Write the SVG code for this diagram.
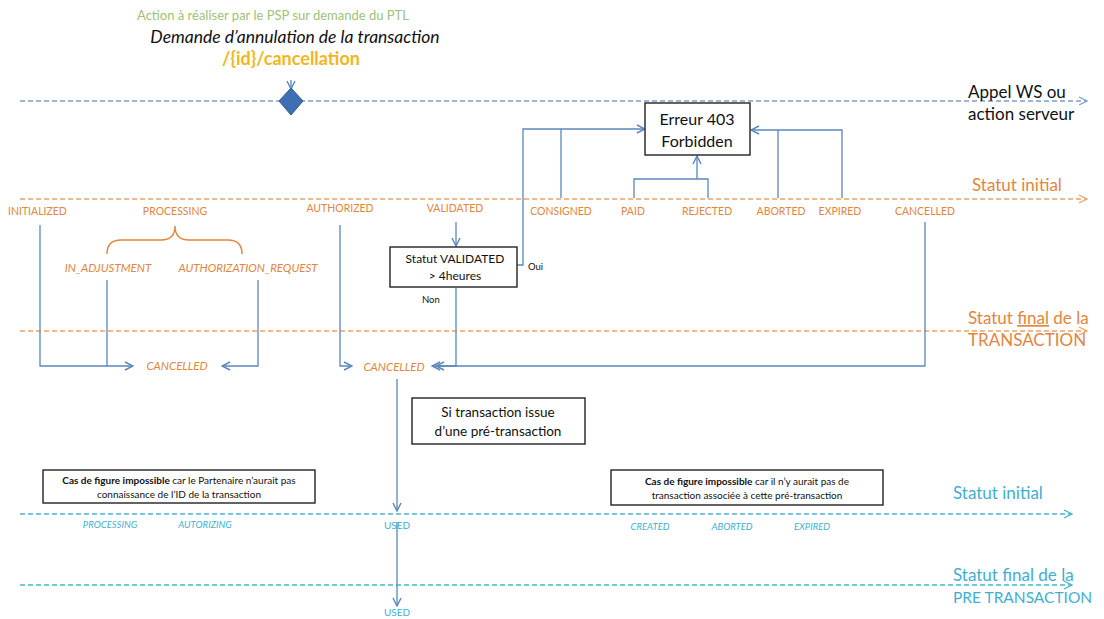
<svg xmlns="http://www.w3.org/2000/svg" width="1104" height="619" viewBox="0 0 1104 619">
<defs>
<style>
text{font-family:Lato,"Open Sans","Liberation Sans",sans-serif}
.or{fill:#E2853E;font-size:10.5px}
.ori{fill:#E2853E;font-size:11.5px;font-style:italic}
.cy{fill:#3FAFD0;font-size:9.5px;font-style:italic}
.cyn{fill:#3FAFD0;font-size:10px}
.lane-o{stroke:#EBA266;stroke-width:1.3;stroke-dasharray:5 3;fill:none}
.lane-b{stroke:#7C9EC6;stroke-width:1.3;stroke-dasharray:5 3;fill:none}
.lane-c{stroke:#48B4D4;stroke-width:1.3;stroke-dasharray:5 3;fill:none}
.con{stroke:#5B86BD;stroke-width:1.3;fill:none}
.box{fill:#fff;stroke:#222;stroke-width:1.4}
.bt{fill:#111;font-size:16px;text-anchor:middle}
.st{fill:#111;font-size:10px;text-anchor:middle}
.lab{font-size:17px}
</style>
<marker id="ab" viewBox="0 0 10 10" refX="9" refY="5" markerWidth="10" markerHeight="10" markerUnits="userSpaceOnUse" orient="auto"><path d="M1,1 L9,5 L1,9" fill="none" stroke="#5B86BD" stroke-width="1.4"/></marker>
<marker id="ao" viewBox="0 0 10 10" refX="9" refY="5" markerWidth="10" markerHeight="10" markerUnits="userSpaceOnUse" orient="auto"><path d="M1,1 L9,5 L1,9" fill="none" stroke="#EBA266" stroke-width="1.3"/></marker>
<marker id="alb" viewBox="0 0 10 10" refX="9" refY="5" markerWidth="10" markerHeight="10" markerUnits="userSpaceOnUse" orient="auto"><path d="M1,1 L9,5 L1,9" fill="none" stroke="#7C9EC6" stroke-width="1.3"/></marker>
<marker id="ac" viewBox="0 0 10 10" refX="9" refY="5" markerWidth="10" markerHeight="10" markerUnits="userSpaceOnUse" orient="auto"><path d="M1,1 L9,5 L1,9" fill="none" stroke="#48B4D4" stroke-width="1.3"/></marker>
</defs>
<rect width="1104" height="619" fill="#fff"/>

<g id="title">
<text x="273" y="20" text-anchor="middle" font-size="13" fill="#9DC27A">Action à réaliser par le PSP sur demande du PTL</text>
<text x="295" y="43" text-anchor="middle" font-size="17.5" font-style="italic" fill="#111">Demande d’annulation de la transaction</text>
<text x="291" y="65" text-anchor="middle" font-size="18" font-weight="bold" fill="#F2B61C">/{id}/cancellation</text>
</g>

<g id="lanes">
<line class="lane-b" x1="20" y1="101" x2="1087" y2="101" marker-end="url(#alb)"/>
<line class="lane-o" x1="20" y1="199" x2="1087" y2="199" marker-end="url(#ao)"/>
<line class="lane-o" x1="20" y1="331" x2="1087" y2="331" marker-end="url(#ao)"/>
<line class="lane-c" x1="20" y1="514" x2="1072" y2="514" marker-end="url(#ac)"/>
<line class="lane-c" x1="20" y1="585" x2="1072" y2="585" marker-end="url(#ac)"/>
<text class="lab" x="968" y="98" fill="#111">Appel WS ou</text>
<text class="lab" x="968" y="120" fill="#111">action serveur</text>
<text class="lab" x="972" y="191" fill="#E2853E">Statut initial</text>
<text class="lab" x="968" y="324" fill="#E2853E">Statut <tspan text-decoration="underline">final</tspan> de la</text>
<text class="lab" x="968" y="346" fill="#E2853E">TRANSACTION</text>
<text class="lab" x="953" y="499" fill="#3FAFD0">Statut initial</text>
<text class="lab" x="953" y="581" fill="#3FAFD0">Statut final de la</text>
<text x="953" y="603" font-size="15.5" fill="#3FAFD0">PRE TRANSACTION</text>
</g>

<g id="connectors">
<line class="con" x1="291" y1="80" x2="291" y2="89" marker-end="url(#ab)"/>
<polyline class="con" points="517,265 523,265 523,129 645,129" marker-end="url(#ab)"/>
<line class="con" x1="561" y1="198" x2="561" y2="129"/>
<polyline class="con" points="634,198 634,179 708,179 708,198"/>
<line class="con" x1="697" y1="179" x2="697" y2="156" marker-end="url(#ab)"/>
<polyline class="con" points="842,198 842,130 751,130" marker-end="url(#ab)"/>
<line class="con" x1="778" y1="198" x2="778" y2="130"/>
<line class="con" x1="456" y1="222" x2="456" y2="246" marker-end="url(#ab)"/>
<polyline class="con" points="40,225 40,366 133,366" marker-end="url(#ab)"/>
<line class="con" x1="107" y1="280" x2="107" y2="366"/>
<polyline class="con" points="258,280 258,366 222,366" marker-end="url(#ab)"/>
<polyline class="con" points="340,225 340,366 352,366" marker-end="url(#ab)"/>
<polyline class="con" points="456,288 456,366 432,366" marker-end="url(#ab)"/>
<polyline class="con" points="925,222 925,366 436,366" marker-end="url(#ab)"/>
<line class="con" x1="397" y1="379" x2="397" y2="511" marker-end="url(#ab)"/>
<line class="con" x1="397" y1="522" x2="397" y2="606" marker-end="url(#ab)"/>
<path d="M107,254 Q107,240 121,240 L161,240 Q175,240 175,226 Q175,240 189,240 L228,240 Q242,240 242,254" fill="none" stroke="#E2853E" stroke-width="1.4"/>
</g>

<g id="start">
<polygon points="291,88 303,101 291,115 279,101" fill="#3F6FB3" stroke="#2E5690" stroke-width="1"/>
</g>

<g id="erreur403">
<rect class="box" x="645" y="103" width="105" height="52"/>
<text class="bt" x="697" y="125">Erreur 403</text>
<text class="bt" x="697" y="147">Forbidden</text>
</g>

<g id="validated-check">
<rect class="box" x="390" y="247" width="127" height="40"/>
<text x="455" y="263" text-anchor="middle" font-size="12" fill="#111">Statut VALIDATED</text>
<text x="455" y="280" text-anchor="middle" font-size="12" fill="#111">&gt; 4heures</text>
<text x="528" y="270" font-size="9.5" fill="#111">Oui</text>
<text x="422" y="303" font-size="9.5" fill="#111">Non</text>
</g>

<g id="initial-states">
<text class="or" x="8" y="215">INITIALIZED</text>
<text class="or" x="175" y="215" text-anchor="middle">PROCESSING</text>
<text class="or" x="340" y="212" text-anchor="middle">AUTHORIZED</text>
<text class="or" x="455" y="212" text-anchor="middle">VALIDATED</text>
<text class="or" x="561" y="215" text-anchor="middle">CONSIGNED</text>
<text class="or" x="633" y="215" text-anchor="middle">PAID</text>
<text class="or" x="707" y="215" text-anchor="middle">REJECTED</text>
<text class="or" x="781" y="215" text-anchor="middle">ABORTED</text>
<text class="or" x="840" y="215" text-anchor="middle">EXPIRED</text>
<text class="or" x="925" y="215" text-anchor="middle">CANCELLED</text>
<text class="ori" x="108" y="272" text-anchor="middle">IN_ADJUSTMENT</text>
<text class="ori" x="248" y="272" text-anchor="middle">AUTHORIZATION_REQUEST</text>
</g>

<g id="final-states">
<text class="ori" x="177" y="370" text-anchor="middle" font-size="11">CANCELLED</text>
<text class="ori" x="394" y="371" text-anchor="middle" font-size="11">CANCELLED</text>
</g>

<g id="pre-transaction-note">
<rect class="box" x="412" y="398" width="173" height="46"/>
<text x="498" y="417" text-anchor="middle" font-size="13.5" fill="#111">Si transaction issue</text>
<text x="498" y="436" text-anchor="middle" font-size="13.5" fill="#111">d’une pré-transaction</text>
</g>

<g id="note-left">
<rect class="box" x="43" y="470" width="272" height="33"/>
<text class="st" x="179" y="484"><tspan font-weight="bold">Cas de figure impossible</tspan> car le Partenaire  n’aurait  pas</text>
<text class="st" x="179" y="498">connaissance de l’ID de la transaction</text>
</g>

<g id="note-right">
<rect class="box" x="611" y="470" width="272" height="35"/>
<text class="st" x="747" y="485"><tspan font-weight="bold">Cas de figure impossible</tspan> car il n’y aurait  pas de</text>
<text class="st" x="747" y="499">transaction associée à cette  pré-transaction</text>
</g>

<g id="pre-states">
<text class="cy" x="110" y="528" text-anchor="middle">PROCESSING</text>
<text class="cy" x="205" y="528" text-anchor="middle">AUTORIZING</text>
<text class="cyn" x="397" y="529" text-anchor="middle">USED</text>
<text class="cy" x="650" y="530" text-anchor="middle">CREATED</text>
<text class="cy" x="732" y="530" text-anchor="middle">ABORTED</text>
<text class="cy" x="812" y="530" text-anchor="middle">EXPIRED</text>
<text class="cyn" x="397" y="616" text-anchor="middle">USED</text>
</g>
</svg>
